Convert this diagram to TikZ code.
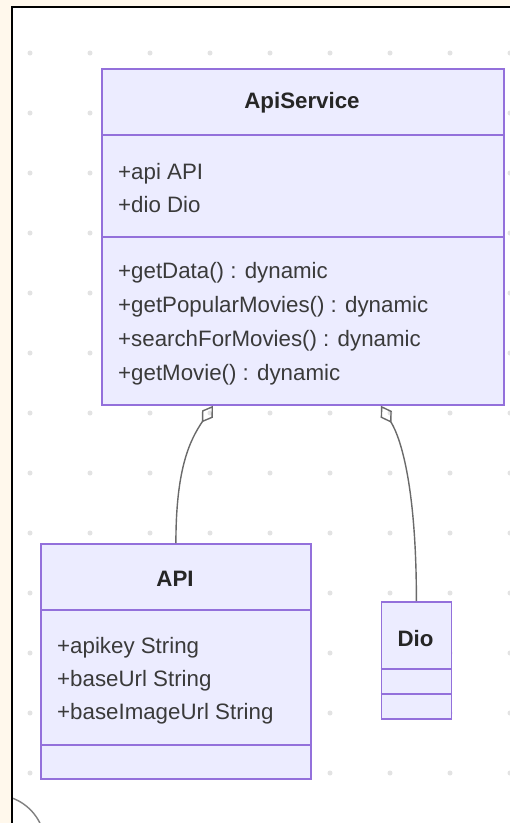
\documentclass[tikz,border=0pt]{standalone}
\usepackage{fontspec}
\setmainfont{Liberation Sans}
\usetikzlibrary{arrows.meta}
\definecolor{cream}{HTML}{FFF8EC}
\definecolor{boxfill}{HTML}{ECECFF}
\definecolor{boxline}{HTML}{9370DB}
\definecolor{txt}{HTML}{3A3A3A}
\definecolor{dotc}{HTML}{E3E3E3}
\definecolor{edge}{HTML}{6A6A6A}
\tikzset{aggtip/.tip={Diamond[open,length=20pt,width=13pt]}}
\begin{document}
\begin{tikzpicture}[x=1pt,y=-1pt,
 classbox/.style={draw=boxline, fill=boxfill, line width=1.8pt, rectangle, inner sep=0pt, anchor=north west},
 divider/.style={draw=boxline, line width=1.8pt},
 member/.style={anchor=west, inner sep=0pt, text=txt, font=\fontsize{22.3}{27}\selectfont},
 title/.style={inner sep=0pt, text=black!85, font=\fontsize{22.3}{27}\selectfont\bfseries},
 agg/.style={draw=edge, line width=1.4pt, arrows={-aggtip}},
]
\useasboundingbox (0,0) rectangle (510,823);
\fill[cream] (0,0) rectangle (510,823);
\fill[white] (12,7) rectangle (510,823);
\foreach \x in {30,90,...,510} \foreach \y in {53,113,...,773} \fill[dotc] (\x,\y) circle (2.5);
\begin{scope}
\clip (12,7) rectangle (510,823);
\draw[gray, line width=1.4pt] (-5,845) circle (50);
\end{scope}
\draw[black, line width=2pt, line join=miter] (11.5,823) -- (11.5,7) -- (510,7);

% ApiService
\node[classbox, minimum width=402pt, minimum height=336pt] (apiservice) at (101,68) {};
\draw[divider] (apiservice.west |- 0,135) -- (apiservice.east |- 0,135);
\draw[divider] (apiservice.west |- 0,237) -- (apiservice.east |- 0,237);
\node[title] (t1) at (302,103) {ApiService};
\node[member] (a1) at (118,174) {+api API};
\node[member] (a2) at (118,205) {+dio Dio};
\node[member] (m1) at (118,273) {+getData() : dynamic};
\node[member] (m2) at (118,307) {+getPopularMovies() : dynamic};
\node[member] (m3) at (118,341) {+searchForMovies() : dynamic};
\node[member] (m4) at (118,375) {+getMovie() : dynamic};

% API
\node[classbox, minimum width=270pt, minimum height=235pt] (api) at (40,543) {};
\draw[divider] (api.west |- 0,610) -- (api.east |- 0,610);
\draw[divider] (api.west |- 0,745) -- (api.east |- 0,745);
\node[title] (t2) at (175,579) {API};
\node[member] (b1) at (57,648) {+apikey String};
\node[member] (b2) at (57,681) {+baseUrl String};
\node[member] (b3) at (57,714) {+baseImageUrl String};

% Dio
\node[classbox, minimum width=70pt, minimum height=117pt] (dio) at (380.5,601) {};
\draw[divider] (dio.west |- 0,669) -- (dio.east |- 0,669);
\draw[divider] (dio.west |- 0,694) -- (dio.east |- 0,694);
\node[title] (t3) at (415.5,639) {Dio};

% aggregations
\draw[agg] (api.north) .. controls ++(0,-75) and (190,440) .. ([xshift=112pt]apiservice.south west);
\draw[agg] (dio.north) .. controls ++(0,-110) and (402,440) .. ([xshift=280pt]apiservice.south west);
\end{tikzpicture}
\end{document}
